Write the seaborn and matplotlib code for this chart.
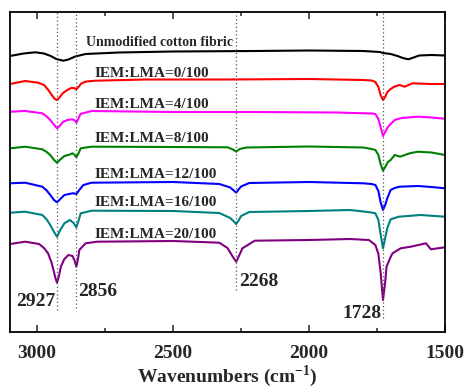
import numpy as np
import pandas as pd
import matplotlib
matplotlib.use("Agg")
import matplotlib.pyplot as plt
import seaborn as sns
from matplotlib.ticker import MultipleLocator

# FTIR spectra (wavenumber in cm-1, offset transmittance in a.u.)
wn_black = [3100, 3050, 3007, 2975, 2950, 2930, 2904, 2885, 2860, 2822, 2700, 2500, 2200, 2000,
            1800, 1740, 1728, 1700, 1675, 1655, 1635, 1615, 1595, 1550, 1500]
t_black = [276, 278.5, 279.7, 278.5, 276, 273, 271.3, 272.5, 275.5, 278, 279.5, 280.5, 281, 281.5,
           281, 280, 279, 278, 276, 274, 272.7, 274.5, 276.5, 277, 276.5]

wn_red = [3100, 3044, 2996, 2975, 2959, 2945, 2935, 2927, 2918, 2905, 2889, 2875, 2865, 2856,
          2848, 2838, 2820, 2785, 2600, 2300, 2000, 1800, 1770, 1756, 1745, 1737, 1728, 1720,
          1712, 1700, 1685, 1667, 1648, 1630, 1619, 1550, 1500]
t_red = [248, 251, 249.3, 247, 242, 236.5, 233, 232, 234.5, 239, 242, 244, 244, 242.7,
         245, 248.5, 250.5, 251.3, 252.5, 252.5, 253, 252, 251.5, 250, 245, 237, 232, 235,
         240, 243, 245.5, 247, 245.3, 247.5, 248.7, 248, 248]

wn_mag = [3100, 3044, 2981, 2965, 2952, 2940, 2932, 2926, 2918, 2905, 2889, 2870, 2862, 2856,
          2849, 2841, 2800, 2500, 2200, 1900, 1770, 1756, 1745, 1737, 1728, 1720, 1710, 1700,
          1685, 1660, 1630, 1596, 1550, 1500]
t_mag = [220.3, 221, 218.7, 215.5, 212, 208, 205, 203.7, 206, 210, 212, 212.7, 211.5, 209.3,
         213, 218, 221, 220, 220, 219.5, 218.5, 218, 213, 205, 196, 200, 205, 208,
         212, 214, 214.7, 215.3, 214.5, 213.3]

wn_green = [3100, 3044, 2981, 2965, 2952, 2938, 2927, 2915, 2900, 2885, 2870, 2862, 2856, 2849,
            2840, 2800, 2500, 2300, 2280, 2268, 2255, 2230, 2000, 1800, 1770, 1756, 1745, 1737,
            1728, 1720, 1710, 1700, 1685, 1665, 1630, 1600, 1550, 1500]
t_green = [183.7, 185.3, 182.7, 180, 177, 172, 169.3, 172.5, 176, 177, 178.7, 177, 174.7, 178,
           183.7, 185.3, 185, 184.7, 182.5, 180.3, 183, 184.5, 185.5, 184.5, 183, 182, 177, 168,
           161.3, 165, 170, 172, 177, 175.3, 178.7, 180.3, 179.5, 177]

wn_blue = [3100, 3044, 2981, 2965, 2952, 2938, 2927, 2915, 2900, 2870, 2862, 2856, 2845, 2830,
           2800, 2500, 2330, 2290, 2275, 2268, 2258, 2250, 2220, 2000, 1800, 1770, 1756, 1745,
           1737, 1728, 1720, 1712, 1700, 1685, 1667, 1600, 1550, 1500]
t_blue = [148.7, 149.3, 145.3, 141.5, 137, 132, 129.7, 133, 137, 138.7, 138.5, 138, 142, 147,
          149.3, 150, 148, 144.5, 141, 139.3, 143, 145.5, 149, 150, 148.7, 148, 147, 141,
          130, 122, 127, 134, 142, 144, 145.3, 146, 145, 143.7]

wn_teal = [3100, 3044, 2981, 2965, 2952, 2938, 2927, 2915, 2900, 2880, 2866, 2856, 2848, 2840,
           2800, 2500, 2330, 2290, 2275, 2268, 2258, 2250, 2220, 2000, 1850, 1800, 1770, 1756,
           1745, 1737, 1728, 1720, 1712, 1700, 1670, 1590, 1500]
t_teal = [119.3, 120.3, 117, 112.5, 107, 100, 95.3, 102, 108.7, 112, 109, 104.7, 111, 118.7,
          121.3, 121, 119, 114, 110, 108, 112, 116, 120, 121, 122, 120.5, 119.5, 118.7,
          112, 98, 83.7, 94, 104, 112.7, 115.3, 117, 115.3]

wn_purple = [3100, 3044, 2993, 2975, 2960, 2948, 2940, 2933, 2927, 2920, 2913, 2900, 2885, 2870,
             2862, 2856, 2850, 2845, 2822, 2780, 2500, 2330, 2300, 2280, 2268, 2258, 2245, 2200,
             2000, 1850, 1780, 1756, 1745, 1737, 1728, 1720, 1715, 1700, 1693, 1663, 1626, 1570,
             1552, 1500]
t_purple = [88, 90.3, 88, 84, 78.7, 70, 62, 54, 49.3, 56, 65.3, 73, 77, 76,
            71, 65.3, 73, 82, 88.7, 90.3, 91, 89.3, 84, 75, 70.3, 76, 83.7, 91.3,
            92, 93, 92, 87, 78, 60, 32, 50, 65.3, 75, 78.7, 83.7, 85.3, 88.7,
            82.7, 84.7]

labels = ["Unmodified cotton fibric", "IEM:LMA=0/100", "IEM:LMA=4/100", "IEM:LMA=8/100",
          "IEM:LMA=12/100", "IEM:LMA=16/100", "IEM:LMA=20/100"]
colors = ["black", "#FF0000", "#FF00FF", "#008000", "#0000FF", "#008080", "#800080"]
label_y = [289.3, 258.7, 227, 193.7, 158, 129.3, 97.7]

peaks = [2927, 2856, 2268, 1728]
peak_line_end = [22, 24, 42, 14]

sns.set_style("white")
plt.rcParams['font.family'] = ['Liberation Serif', 'DejaVu Serif']
plt.rcParams['font.weight'] = 'bold'
plt.rcParams['mathtext.fontset'] = 'custom'
plt.rcParams['mathtext.bf'] = 'Liberation Serif:bold'
plt.rcParams['mathtext.rm'] = 'Liberation Serif:bold'

spectra = [(wn_black, t_black), (wn_red, t_red), (wn_mag, t_mag), (wn_green, t_green),
           (wn_blue, t_blue), (wn_teal, t_teal), (wn_purple, t_purple)]

fig = plt.figure(figsize=(4.65, 3.9), dpi=100)
ax = fig.add_axes([10 / 465, 58 / 390, 435 / 465, 320 / 390])

for (wn, t), c in zip(spectra, colors):
    df = pd.DataFrame({"wn": wn, "t": t})
    sns.lineplot(data=df, x="wn", y="t", color=c, linewidth=1.5, estimator=None, ax=ax)

ax.vlines(peaks, peak_line_end, 320, colors="#555555", linestyles=(0, (1, 2)), linewidth=0.9)

# trace labels
for i, (lab, y) in enumerate(zip(labels, label_y)):
    if i == 0:
        ax.text(2822, y, lab, fontsize=10, fontweight='bold', va='center', ha='left')
    else:
        ax.text(2789, y, lab, fontsize=11, fontweight='bold', va='center', ha='left')

# peak labels
ax.text(peaks[0] + 6, 30, str(peaks[0]), fontsize=14, fontweight='bold', ha='right', va='center')
ax.text(peaks[1] - 8, 40, str(peaks[1]), fontsize=14, fontweight='bold', ha='left', va='center')
ax.text(peaks[2] - 9, 50, str(peaks[2]), fontsize=14, fontweight='bold', ha='left', va='center')
ax.text(peaks[3] + 6, 19, str(peaks[3]), fontsize=14, fontweight='bold', ha='right', va='center')

ax.set_xlim(3100, 1500)
ax.set_ylim(0, 320)
ax.set_yticks([])
ax.set_ylabel("")
ax.xaxis.set_major_locator(MultipleLocator(500))
ax.xaxis.set_minor_locator(MultipleLocator(250))
ax.tick_params(axis='x', which='both', direction='in', top=True, bottom=True,
               labelsize=14, pad=9)
ax.tick_params(axis='x', which='major', length=5, width=1.1)
ax.tick_params(axis='x', which='minor', length=3, width=1.1)
for lab in ax.get_xticklabels():
    lab.set_fontweight('bold')
for s in ax.spines.values():
    s.set_linewidth(1.3)
    s.set_color('black')
ax.set_xlabel(r"Wavenumbers (cm$^{\mathbf{-1}}$)", fontsize=14, fontweight='bold', labelpad=1)

fig.savefig("out.png", dpi=100)
